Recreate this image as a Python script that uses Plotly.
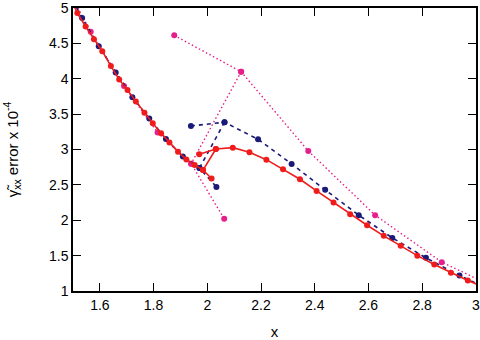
import plotly.graph_objects as go

# ---- red series (solid) ----
red_main_x = [1.484, 1.516, 1.547, 1.578, 1.609, 1.641, 1.672, 1.703, 1.734, 1.766,
              1.797, 1.828, 1.859, 1.891, 1.922, 1.953, 1.984, 2.016]
red_main_y = [5.20, 4.93, 4.74, 4.56, 4.39, 4.18, 3.99, 3.84, 3.68, 3.52,
              3.37, 3.23, 3.10, 2.97, 2.86, 2.78, 2.71, 2.59]
red_up_x = [1.970, 2.032, 2.095, 2.157, 2.220, 2.282, 2.345, 2.407, 2.470, 2.532,
            2.595, 2.657, 2.720, 2.782, 2.845, 2.907, 2.970, 3.032]
red_up_y = [2.934, 3.008, 3.027, 2.962, 2.857, 2.722, 2.580, 2.415, 2.250, 2.086,
            1.930, 1.780, 1.638, 1.500, 1.374, 1.257, 1.148, 1.050]
red_link = (1, 16)  # (index in upper branch, index in main branch)

# ---- navy series (dashed) ----
navy_main_x = [1.471, 1.534, 1.596, 1.659, 1.721, 1.784, 1.846, 1.909, 1.971, 2.034]
navy_main_y = [5.30, 4.86, 4.46, 4.09, 3.74, 3.44, 3.15, 2.90, 2.74, 2.47]
navy_up_x = [1.939, 2.064, 2.189, 2.314, 2.439, 2.564, 2.689, 2.814, 2.939, 3.064]
navy_up_y = [3.333, 3.386, 3.145, 2.797, 2.430, 2.072, 1.751, 1.469, 1.219, 1.000]
navy_link = (1, 8)

# ---- pink series (dotted) ----
pink_main_x = [1.441, 1.566, 1.690, 1.815, 1.940, 2.063]
pink_main_y = [5.55, 4.665, 3.90, 3.24, 2.80, 2.02]
pink_up_x = [1.877, 2.126, 2.376, 2.625, 2.873, 3.122]
pink_up_y = [4.614, 4.10, 2.98, 2.072, 1.408, 0.96]
pink_link = (1, 4)

x_ticks = [1.6, 1.8, 2.0, 2.2, 2.4, 2.6, 2.8, 3.0]
x_labels = ["1.6", "1.8", "2", "2.2", "2.4", "2.6", "2.8", "3"]
y_ticks = [1, 1.5, 2, 2.5, 3, 3.5, 4, 4.5, 5]
y_labels = ["1", "1.5", "2", "2.5", "3", "3.5", "4", "4.5", "5"]


def build(mx, my, ux, uy, link):
    xs = list(mx) + [None] + list(ux) + [None] + [ux[link[0]], mx[link[1]]]
    ys = list(my) + [None] + list(uy) + [None] + [uy[link[0]], my[link[1]]]
    return xs, ys


FONT = "Liberation Sans, Arial, sans-serif"
fig = go.Figure()
series = [
    (pink_main_x, pink_main_y, pink_up_x, pink_up_y, pink_link, "#e5208a", "1.5px,2.5px", 1.4, 6),
    (navy_main_x, navy_main_y, navy_up_x, navy_up_y, navy_link, "#1a1a78", "4px,4px", 1.6, 6),
    (red_main_x, red_main_y, red_up_x, red_up_y, red_link, "#f01c1c", "solid", 1.6, 6),
]
for mx, my, ux, uy, link, col, dash, lw, ms in series:
    xs, ys = build(mx, my, ux, uy, link)
    fig.add_trace(go.Scatter(
        x=xs, y=ys, mode="lines+markers", connectgaps=False,
        line=dict(color=col, width=lw, dash=dash),
        marker=dict(color=col, size=ms),
        showlegend=False, cliponaxis=True,
    ))

axis_common = dict(
    showline=True, linecolor="black", linewidth=1.5, mirror="ticks",
    ticks="inside", ticklen=8, tickwidth=1.3, tickcolor="black",
    showgrid=False, zeroline=False, automargin=False,
    ticklabeloverflow="allow",
    tickfont=dict(family=FONT, size=14, color="black"),
)
fig.update_xaxes(range=[1.5, 3.0005], tickvals=x_ticks, ticktext=x_labels,
                 title=dict(text="x", font=dict(family=FONT, size=15, color="black"), standoff=16),
                 **axis_common)
fig.update_yaxes(range=[1, 5.001], tickvals=y_ticks, ticktext=y_labels,
                 title=dict(text="γ\u0303<sub>xx</sub> error x 10<sup>-4</sup>",
                            font=dict(family=FONT, size=15, color="black"), standoff=27),
                 **axis_common)
fig.update_layout(
    width=480, height=340,
    margin=dict(l=73, r=4, t=8, b=49),
    plot_bgcolor="white", paper_bgcolor="white",
)
fig.write_html("out.html")
